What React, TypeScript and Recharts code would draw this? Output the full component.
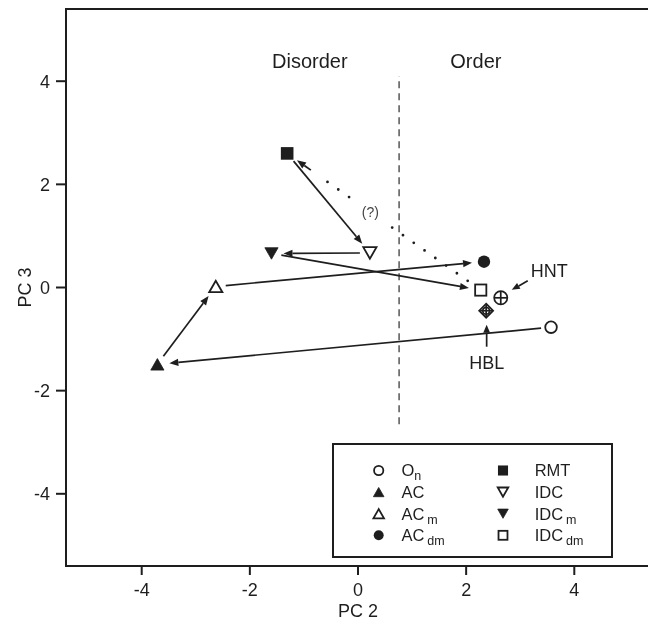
import React from 'react';
import { ScatterChart, Scatter, XAxis, YAxis, ReferenceLine, ReferenceArea, ReferenceDot, Legend } from 'recharts';

// sample positions on PC 2 / PC 3
const sampleNames = ['On', 'AC', 'ACm', 'ACdm', 'RMT', 'IDC', 'IDCm', 'IDCdm', 'HNT', 'HBL'];
const pc2Values = [3.57, -3.71, -2.63, 2.33, -1.31, 0.22, -1.6, 2.27, 2.64, 2.37];
const pc3Values = [-0.77, -1.49, 0.02, 0.5, 2.6, 0.67, 0.66, -0.05, -0.2, -0.45];

// solid arrows (transformation paths)
const pathFrom = ['On', 'AC', 'ACm', 'RMT', 'IDC', 'IDCm'];
const pathTo = ['AC', 'ACm', 'ACdm', 'IDC', 'IDCm', 'IDCdm'];
// dotted arrow marked "(?)"
const uncertainPath = ['IDCdm', 'RMT'];
const uncertainLabel = '(?)';

// reference samples with a pointer label
const pointerSamples = ['HNT', 'HBL'];

const legendSamples = ['On', 'AC', 'ACm', 'ACdm', 'RMT', 'IDC', 'IDCm', 'IDCdm'];
const legendMain = ['O', 'AC', 'AC', 'AC', 'RMT', 'IDC', 'IDC', 'IDC'];
const legendSub = ['n', '', 'm', 'dm', '', '', 'm', 'dm'];

const regionNames = ['Disorder', 'Order'];
const regionPc2 = [-0.89, 2.18];
const regionPc3 = 4.4;

const axisTicks = [-4, -2, 0, 2, 4];
const axisLimit = 5.4;
const orderBoundary = 0.76;
const boundaryExtent = [-2.65, 4.1];

const INK = '#1e1e1e';
const FONT = '"Liberation Sans", Arial, Helvetica, sans-serif';

const markerKinds: Record<string, string> = {
  On: 'openCircle',
  AC: 'filledUp',
  ACm: 'openUp',
  ACdm: 'filledCircle',
  RMT: 'filledSquare',
  IDC: 'openDown',
  IDCm: 'filledDown',
  IDCdm: 'openSquare',
  HNT: 'circlePlus',
  HBL: 'diamondPlus',
};

const pointerLayout: Record<string, { label: number[]; anchor: 'start' | 'middle'; from: number[]; to: number[] }> = {
  HNT: { label: [30, -27], anchor: 'start', from: [27, -17], to: [11, -8] },
  HBL: { label: [0.5, 52], anchor: 'middle', from: [0.5, 36], to: [0.5, 14] },
};

const pointOf = (name: string) => {
  const i = sampleNames.indexOf(name);
  return { x: pc2Values[i], y: pc3Values[i] };
};

function Marker({ kind, cx, cy, k = 1 }: { kind: string; cx: number; cy: number; k?: number }) {
  const sw = 1.8;
  switch (kind) {
    case 'openCircle':
      return <circle cx={cx} cy={cy} r={5.8 * k} fill="#fff" stroke={INK} strokeWidth={sw} />;
    case 'filledCircle':
      return <circle cx={cx} cy={cy} r={6.2 * k} fill={INK} />;
    case 'filledSquare': {
      const h = 6.3 * k;
      return <rect x={cx - h} y={cy - h} width={2 * h} height={2 * h} fill={INK} />;
    }
    case 'openSquare': {
      const h = 5.6 * k;
      return <rect x={cx - h} y={cy - h} width={2 * h} height={2 * h} fill="#fff" stroke={INK} strokeWidth={sw} />;
    }
    case 'filledUp':
    case 'openUp':
    case 'filledDown':
    case 'openDown': {
      const open = kind.startsWith('open');
      const dir = kind.endsWith('Up') ? -1 : 1;
      const w = 6.6 * k;
      const h = 11.5 * k;
      const tip = cy + (dir * h) / 2;
      const base = cy - (dir * h) / 2;
      return (
        <polygon
          points={`${cx},${tip} ${cx - w},${base} ${cx + w},${base}`}
          fill={open ? '#fff' : INK}
          stroke={INK}
          strokeWidth={open ? sw : 0.8}
        />
      );
    }
    case 'circlePlus': {
      const r = 6.6 * k;
      return (
        <g stroke={INK} strokeWidth={1.7}>
          <circle cx={cx} cy={cy} r={r} fill="#fff" />
          <line x1={cx - r} y1={cy} x2={cx + r} y2={cy} />
          <line x1={cx} y1={cy - r} x2={cx} y2={cy + r} />
        </g>
      );
    }
    case 'diamondPlus': {
      const d = 7 * k;
      return (
        <g stroke={INK} strokeWidth={1.7}>
          <polygon points={`${cx},${cy - d} ${cx + d},${cy} ${cx},${cy + d} ${cx - d},${cy}`} fill="#fff" />
          <circle cx={cx} cy={cy} r={3.4 * k} fill="none" />
          <line x1={cx - d + 1} y1={cy} x2={cx + d - 1} y2={cy} />
          <line x1={cx} y1={cy - d + 1} x2={cx} y2={cy + d - 1} />
        </g>
      );
    }
    default:
      return null;
  }
}

const head = (ex: number, ey: number, ux: number, uy: number, len = 9, half = 3.6) => {
  const bx = ex - ux * len;
  const by = ey - uy * len;
  return { bx, by, points: `${ex},${ey} ${bx - uy * half},${by + ux * half} ${bx + uy * half},${by - ux * half}` };
};

const pathArrow = (props: any) => {
  const { x1, y1, x2, y2 } = props;
  const len = Math.hypot(x2 - x1, y2 - y1);
  const ux = (x2 - x1) / len;
  const uy = (y2 - y1) / len;
  const sx = x1 + ux * 10;
  const sy = y1 + uy * 10;
  const ex = x2 - ux * 12;
  const ey = y2 - uy * 12;
  const h = head(ex, ey, ux, uy);
  return (
    <g>
      <line x1={sx} y1={sy} x2={h.bx} y2={h.by} stroke={INK} strokeWidth={1.7} />
      <polygon points={h.points} fill={INK} />
    </g>
  );
};

const dottedArrow = (props: any) => {
  const { x1, y1, x2, y2 } = props;
  const len = Math.hypot(x2 - x1, y2 - y1);
  const ux = (x2 - x1) / len;
  const uy = (y2 - y1) / len;
  const sx = x1 + ux * 16;
  const sy = y1 + uy * 16;
  const ex = x2 - ux * 12;
  const ey = y2 - uy * 12;
  const h = head(ex, ey, ux, uy);
  const solidStart = { x: ex - ux * 17, y: ey - uy * 17 };
  const dotEnd = { x: solidStart.x - ux * 10, y: solidStart.y - uy * 10 };
  const lx = sx + (ex - sx) * 0.57;
  const ly = sy + (ey - sy) * 0.57;
  return (
    <g>
      <line x1={sx} y1={sy} x2={dotEnd.x} y2={dotEnd.y} stroke={INK} strokeWidth={2.8} strokeLinecap="round" strokeDasharray="0 13.2" />
      <line x1={solidStart.x} y1={solidStart.y} x2={h.bx} y2={h.by} stroke={INK} strokeWidth={1.8} />
      <polygon points={h.points} fill={INK} />
      <rect x={lx - 13} y={ly - 10} width={26} height={20} fill="#fff" />
      <text x={lx} y={ly + 5} textAnchor="middle" fontSize={14} fill="#444" fontFamily={FONT}>
        {uncertainLabel}
      </text>
    </g>
  );
};

const pointerShape = (name: string) => (props: any) => {
  const { cx, cy } = props;
  const p = pointerLayout[name];
  const x1 = cx + p.from[0];
  const y1 = cy + p.from[1];
  const x2 = cx + p.to[0];
  const y2 = cy + p.to[1];
  const len = Math.hypot(x2 - x1, y2 - y1);
  const h = head(x2, y2, (x2 - x1) / len, (y2 - y1) / len, 8, 3.4);
  return (
    <g>
      <line x1={x1} y1={y1} x2={h.bx} y2={h.by} stroke={INK} strokeWidth={1.7} />
      <polygon points={h.points} fill={INK} />
      <text x={cx + p.label[0]} y={cy + p.label[1] + 6.5} textAnchor={p.anchor} fontSize={18} fill={INK} fontFamily={FONT}>
        {name}
      </text>
    </g>
  );
};

const regionShape = (text: string) => (props: any) => (
  <text x={props.cx} y={props.cy + 7} textAnchor="middle" fontSize={20} fill={INK} fontFamily={FONT}>
    {text}
  </text>
);

function LegendBox() {
  return (
    <div style={{ boxSizing: 'border-box', width: 281, height: 115, border: `2px solid ${INK}`, background: '#fff', color: INK }}>
      <svg width={277} height={111} style={{ display: 'block' }}>
        {legendSamples.map((name, i) => {
          const col = Math.floor(i / 4);
          const row = i % 4;
          const y = 25.5 + row * 21.6;
          const sx = col ? 169 : 44.7;
          const tx = col ? 200.7 : 67.4;
          return (
            <g key={name}>
              <Marker kind={markerKinds[name]} cx={sx} cy={y} k={0.8} />
              <text x={tx} y={y + 5.8} fontSize={16.5} fill={INK} fontFamily={FONT}>
                {legendMain[i]}
                {legendSub[i] ? (
                  <tspan dx={legendSub[i] === 'n' ? 0 : 3} dy={4} fontSize={12.5} fill={INK}>
                    {legendSub[i]}
                  </tspan>
                ) : null}
              </text>
            </g>
          );
        })}
      </svg>
    </div>
  );
}

export default function App() {
  const tickStyle = { fill: INK, fontSize: 18, fontFamily: FONT };
  return (
    <div
      style={{
        position: 'absolute',
        left: 0,
        top: 0,
        width: 648,
        height: 624,
        overflow: 'hidden',
        background: '#fff',
        willChange: 'transform',
      }}
    >
      <ScatterChart width={652} height={624} margin={{ top: 9, right: 2, bottom: 0, left: 0 }}>
        <XAxis
          type="number"
          dataKey="x"
          domain={[-axisLimit, axisLimit]}
          ticks={axisTicks}
          allowDataOverflow
          axisLine={false}
          tickLine={{ stroke: INK, strokeWidth: 2 }}
          tickSize={9}
          tickMargin={8}
          tick={tickStyle}
          height={58}
          label={{ value: 'PC 2', position: 'insideBottom', offset: 7, fill: INK, fontSize: 18, fontFamily: FONT }}
        />
        <YAxis
          type="number"
          dataKey="y"
          domain={[-axisLimit, axisLimit]}
          ticks={axisTicks}
          allowDataOverflow
          axisLine={false}
          tickLine={{ stroke: INK, strokeWidth: 2 }}
          tickSize={10}
          tickMargin={6}
          tick={tickStyle}
          width={66}
          label={{
            content: (p: any) => {
              const vb = p.viewBox || { x: 0, y: 9, width: 66, height: 557 };
              const x = vb.x + 31;
              const y = vb.y + vb.height / 2;
              return (
                <text x={x} y={y} transform={`rotate(-90 ${x} ${y})`} textAnchor="middle" fontSize={18} fill={INK} fontFamily={FONT}>
                  PC 3
                </text>
              );
            },
          }}
        />
        <ReferenceArea
          x1={-axisLimit}
          x2={axisLimit}
          y1={-axisLimit}
          y2={axisLimit}
          fill="none"
          fillOpacity={0}
          stroke={INK}
          strokeWidth={2}
          ifOverflow="visible"
        />
        <ReferenceLine
          segment={[
            { x: orderBoundary, y: boundaryExtent[0] },
            { x: orderBoundary, y: boundaryExtent[1] },
          ]}
          stroke="#555"
          strokeWidth={1.5}
          strokeDasharray="7 5"
        />
        {regionNames.map((name, i) => (
          <ReferenceDot key={name} x={regionPc2[i]} y={regionPc3} r={0} shape={regionShape(name)} />
        ))}
        {pathFrom.map((from, i) => (
          <ReferenceLine key={`path-${from}`} segment={[pointOf(from), pointOf(pathTo[i])]} shape={pathArrow} />
        ))}
        <ReferenceLine segment={[pointOf(uncertainPath[0]), pointOf(uncertainPath[1])]} shape={dottedArrow} />
        {pointerSamples.map((name) => (
          <ReferenceDot key={`ptr-${name}`} {...pointOf(name)} r={0} shape={pointerShape(name)} />
        ))}
        {sampleNames.map((name) => (
          <Scatter
            key={name}
            name={name}
            data={[{ name, ...pointOf(name) }]}
            isAnimationActive={false}
            shape={(p: any) => <Marker kind={markerKinds[name]} cx={p.cx} cy={p.cy} />}
          />
        ))}
        <Legend
          layout="horizontal"
          verticalAlign="middle"
          align="center"
          content={() => <LegendBox />}
          wrapperStyle={{ left: 332, top: 443, width: 281, height: 115 }}
        />
      </ScatterChart>
    </div>
  );
}
